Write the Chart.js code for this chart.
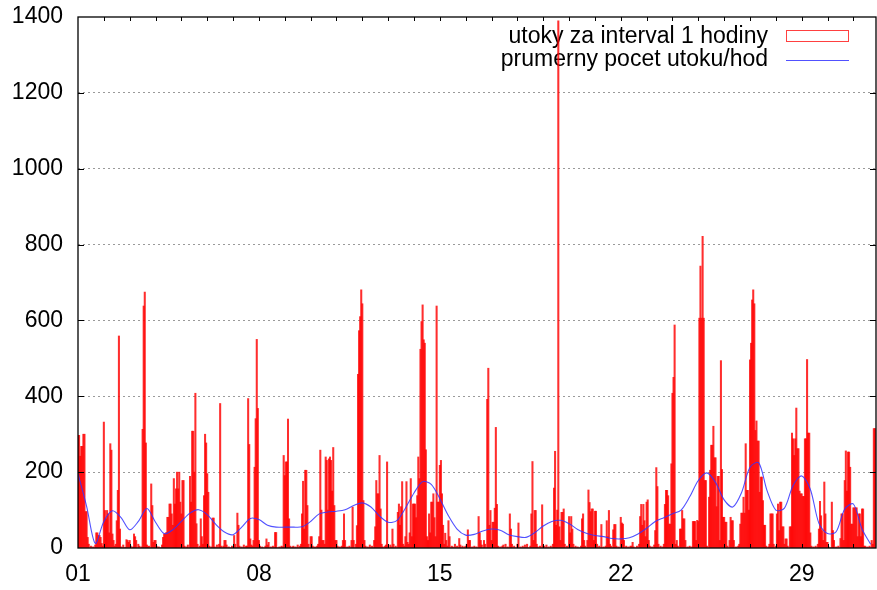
<!DOCTYPE html>
<html>
<head>
<meta charset="utf-8">
<script src="https://cdn.jsdelivr.net/npm/chart.js@4/dist/chart.umd.min.js"></script>
<style>
  html, body { margin: 0; padding: 0; background: #fff; }
  #chart { display: block; }
</style>
</head>
<body>
<canvas id="chart" width="877" height="590"></canvas>
<script>
// attacks per hour, one row per day (day 01 .. day 31)
const hourlyAttacks = [
  297,297,242,268,268,300,300,96,96,28,10,0,5,0,3,0,8,40,40,33,33,28,12,5,
  332,99,77,99,90,40,275,258,37,20,5,10,72,152,559,50,3,0,8,0,2,22,20,15,
  20,5,0,3,37,30,20,0,10,5,0,3,313,638,675,277,8,3,5,0,169,112,15,20,
  20,5,0,3,0,0,8,28,37,37,41,81,81,116,116,90,60,183,116,156,200,156,200,121,
  90,178,178,5,0,3,8,0,189,121,308,308,200,408,64,10,0,5,77,30,10,138,300,277,
  196,147,5,0,3,79,79,3,0,8,0,10,381,5,0,5,20,20,8,0,3,0,0,5,
  0,33,10,0,92,60,5,0,3,0,8,0,5,5,394,273,24,8,5,20,213,341,550,368,
  20,5,0,3,0,0,5,24,8,15,0,3,0,5,0,41,41,0,0,3,0,5,3,244,
  191,227,227,340,77,5,0,3,5,0,3,0,8,0,5,10,90,176,50,205,205,112,10,0,
  30,30,5,0,3,0,5,10,30,258,100,20,20,10,240,231,100,235,240,231,150,265,112,20,
  20,5,0,3,0,5,20,90,20,0,3,0,5,0,20,108,20,0,10,59,458,573,610,681,
  644,125,20,5,0,3,0,8,0,5,0,20,56,178,143,143,244,103,10,3,0,5,8,227,
  5,0,8,3,50,10,0,5,0,94,116,60,109,175,10,5,30,175,15,10,40,183,30,116,
  116,116,80,138,240,183,524,597,641,549,540,259,30,20,90,40,121,121,143,80,30,638,121,121,
  218,231,143,60,10,39,20,5,72,30,0,5,3,0,10,0,5,0,25,8,0,5,0,3,
  5,10,48,20,20,0,3,0,5,0,3,0,83,40,20,8,0,20,10,0,392,474,60,99,
  20,68,68,105,318,115,5,0,3,0,5,8,0,10,0,3,0,90,50,10,0,5,0,0,
  10,66,0,3,0,5,0,8,0,10,0,0,5,90,228,20,99,99,10,3,0,5,0,114,
  5,5,0,8,0,3,0,5,0,10,158,255,60,100,1390,56,20,94,94,103,10,0,5,0,
  83,40,83,50,10,0,5,0,3,0,0,5,77,90,20,5,0,20,153,120,96,103,103,20,
  97,97,10,0,5,0,62,0,3,0,5,72,30,99,10,5,0,48,62,62,5,0,3,0,
  81,66,63,20,0,5,0,3,0,5,5,15,3,0,0,5,0,10,83,115,60,115,72,30,
  121,127,20,5,0,3,0,8,46,212,162,10,0,5,0,3,10,115,152,152,138,63,63,222,
  408,450,588,10,20,5,0,50,50,99,77,77,20,0,3,0,5,0,3,70,70,70,20,73,
  70,606,743,606,822,606,178,178,5,0,134,205,271,271,321,238,238,109,189,189,20,494,207,81,
  81,68,68,5,0,20,81,72,72,20,0,3,0,5,10,63,92,92,134,92,275,152,152,100,
  496,540,654,681,644,310,335,282,282,147,187,187,125,60,60,5,0,3,10,90,90,90,10,0,
  5,90,116,46,121,121,56,56,10,24,24,5,0,56,56,303,288,244,288,369,262,262,150,143,
  143,136,136,288,288,497,303,303,40,5,0,3,0,5,0,10,50,123,85,46,20,174,90,15,
  15,3,0,0,121,46,20,0,3,0,5,0,25,90,90,20,178,256,150,253,253,213,63,63,
  106,106,106,106,30,90,90,30,103,103,5,5,0,3,0,5,0,20,10,315,315
];

// average attacks per hour, one value every 8 hours
const avgStepHours = 8;
const avgAttacks = [
  196,110,12,70,98,80,48,70,104,68,
  38,48,70,92,101,88,62,42,35,55,
  78,75,60,55,55,55,56,70,90,95,
  97,101,112,119,108,84,68,72,105,145,
  175,168,130,85,50,34,36,45,50,47,
  35,30,28,40,58,70,73,64,49,39,
  33,30,25,24,27,37,52,70,80,90,
  100,135,178,198,173,127,108,145,213,225,
  150,100,105,165,190,155,65,38,43,103,
  116,50,10
];

const dayTickLabels = ['01', '08', '15', '22', '29'];
const totalHours = 741;
const legendLabels = ['utoky za interval 1 hodiny', 'prumerny pocet utoku/hod'];

const fontFamily = '"Liberation Sans", Arial, sans-serif';
const barColor = 'rgba(255,0,0,0.82)';
const lineColor = 'rgba(50,50,255,0.85)';

// legend drawn inside the plot, under the bars (like gnuplot does)
const insideLegend = {
  id: 'insideLegend',
  beforeDatasetsDraw(chart) {
    const { ctx, chartArea: a } = chart;
    const textRight = a.right - 108;
    ctx.save();
    ctx.font = '23px ' + fontFamily;
    ctx.fillStyle = '#000';
    ctx.textAlign = 'right';
    ctx.textBaseline = 'middle';
    ctx.fillText(legendLabels[0], textRight, a.top + 20);
    ctx.fillText(legendLabels[1], textRight, a.top + 43);
    ctx.strokeStyle = 'rgba(255,0,0,0.75)';
    ctx.lineWidth = 1;
    ctx.strokeRect(a.right - 89.5, a.top + 13.5, 62, 11);
    ctx.strokeStyle = lineColor;
    ctx.beginPath();
    ctx.moveTo(a.right - 90, a.top + 43.5);
    ctx.lineTo(a.right - 27, a.top + 43.5);
    ctx.stroke();
    ctx.restore();
  }
};

// border and inward tick marks on all four sides
const frame = {
  id: 'frame',
  afterDatasetsDraw(chart) {
    const { ctx, chartArea: a, scales: { x, y } } = chart;
    ctx.save();
    ctx.strokeStyle = '#000';
    ctx.lineWidth = 1;
    ctx.beginPath();
    for (let v = 200; v < 1400; v += 200) {
      const py = Math.round(y.getPixelForValue(v)) + 0.5;
      ctx.moveTo(a.left, py); ctx.lineTo(a.left + 6, py);
      ctx.moveTo(a.right, py); ctx.lineTo(a.right - 6, py);
    }
    for (let d = 1; d * 24 < totalHours; d++) {
      const px = Math.round(x.getPixelForValue(d * 24)) + 0.5;
      ctx.moveTo(px, a.bottom); ctx.lineTo(px, a.bottom - 4);
      ctx.moveTo(px, a.top); ctx.lineTo(px, a.top + 4);
    }
    ctx.stroke();
    ctx.lineWidth = 1.3;
    ctx.strokeRect(a.left, a.top, a.right - a.left, a.bottom - a.top);
    ctx.restore();
  }
};

const ctx = document.getElementById('chart').getContext('2d');
new Chart(ctx, {
  type: 'bar',
  data: {
    datasets: [
      {
        type: 'line',
        label: legendLabels[1],
        data: avgAttacks.map((v, i) => ({ x: i * avgStepHours, y: v })),
        borderColor: lineColor,
        borderWidth: 1.1,
        pointRadius: 0,
        tension: 0.3,
        fill: false
      },
      {
        type: 'bar',
        label: legendLabels[0],
        data: hourlyAttacks.map((v, i) => ({ x: i, y: v })),
        backgroundColor: barColor,
        borderWidth: 0,
        barPercentage: 1,
        categoryPercentage: 1,
        barThickness: 1.4
      }
    ]
  },
  plugins: [insideLegend, frame],
  options: {
    responsive: false,
    animation: false,
    devicePixelRatio: 1,
    layout: { padding: { top: 17, right: 1, left: 0, bottom: 0 } },
    plugins: { legend: { display: false }, tooltip: { enabled: false } },
    scales: {
      x: {
        type: 'linear',
        min: 0,
        max: totalHours,
        offset: false,
        grid: { display: false, offset: false },
        border: { display: false },
        afterBuildTicks: scale => {
          scale.ticks = dayTickLabels.map(l => ({ value: (parseInt(l, 10) - 1) * 24 }));
        },
        afterFit: scale => { scale.height = 42; scale.paddingLeft = 0; scale.paddingRight = 0; },
        ticks: {
          maxRotation: 0,
          autoSkip: false,
          padding: 5,
          color: '#000',
          font: { family: fontFamily, size: 23 },
          callback: v => String(v / 24 + 1).padStart(2, '0')
        }
      },
      y: {
        min: 0,
        max: 1400,
        afterFit: scale => { scale.width = 78; scale.paddingTop = 0; scale.paddingBottom = 0; },
        grid: {
          color: c => (c.tick.value === 0 || c.tick.value === 1400) ? 'rgba(0,0,0,0)' : '#9a9a9a',
          lineWidth: 1,
          drawTicks: false
        },
        border: { display: false, dash: [2, 3] },
        ticks: {
          stepSize: 200,
          padding: 15,
          color: '#000',
          font: { family: fontFamily, size: 23 },
          callback: v => String(v)
        }
      }
    }
  }
});
</script>
</body>
</html>
